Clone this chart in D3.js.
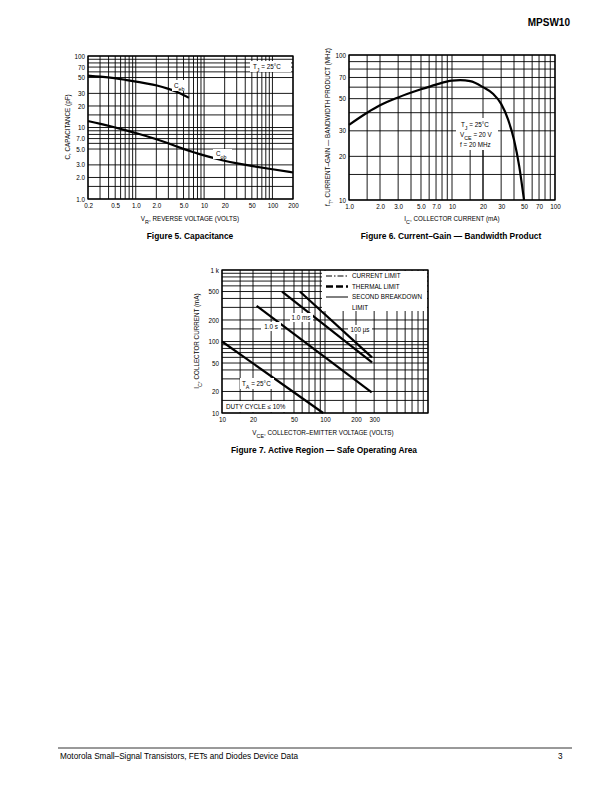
<!DOCTYPE html>
<html>
<head>
<meta charset="utf-8">
<script src="https://cdn.jsdelivr.net/npm/d3@7"></script>
<style>
body { margin: 0; background: #fff; }
text { font-family: "Liberation Sans", Arial, sans-serif; fill: #000; }
</style>
</head>
<body>
<script>
// Figure 5 - capacitance vs reverse voltage
var vrCeb = [0.2, 0.3, 0.5, 0.7, 1.0, 1.5, 2.0, 3.0, 4.0, 5.0, 6.0];
var cebValues = [53, 51.5, 49, 46.5, 44, 41, 39, 35, 31.5, 28.5, 26];
var vrCob = [0.2, 0.3, 0.5, 0.7, 1.0, 2.0, 3.0, 5.0, 7.0, 10, 20, 30, 50, 100, 200];
var cobValues = [12.3, 11.3, 10.0, 9.2, 8.4, 6.9, 6.0, 5.0, 4.5, 4.05, 3.4, 3.15, 2.9, 2.6, 2.35];
var fig5XTicks = [0.2, 0.5, 1.0, 2.0, 5.0, 10, 20, 50, 100, 200];
var fig5XLabels = ["0.2", "0.5", "1.0", "2.0", "5.0", "10", "20", "50", "100", "200"];
var fig5YTicks = [1, 2, 3, 5, 7, 10, 20, 30, 50, 70, 100];
var fig5YLabels = ["1.0", "2.0", "3.0", "5.0", "7.0", "10", "20", "30", "50", "70", "100"];

// Figure 6 - current-gain bandwidth product
var icValues = [1.0, 1.5, 2.0, 3.0, 5.0, 7.0, 10, 12, 15, 20, 25, 30, 35, 40, 45, 50];
var ftValues = [33, 40, 45, 51, 58, 62.5, 66.5, 67, 66, 60, 54, 46, 36, 26, 17, 10];
var fig6XTicks = [1, 2, 3, 5, 7, 10, 20, 30, 50, 70, 100];
var fig6XLabels = ["1.0", "2.0", "3.0", "5.0", "7.0", "10", "20", "30", "50", "70", "100"];
var fig6YTicks = [10, 20, 30, 50, 70, 100];
var fig6YLabels = ["10", "20", "30", "50", "70", "100"];

// Figure 7 - safe operating area (VCE volts, IC mA)
var soaDc = [[10, 100], [96, 10]];
var soa1s = [[21.7, 314], [284, 19.4]];
var soa1ms = [[38.3, 500], [286, 51]];
var soa100us = [[57, 500], [286, 60]];
var fig7XTicks = [10, 20, 50, 100, 200, 300];
var fig7XLabels = ["10", "20", "50", "100", "200", "300"];
var fig7YTicks = [10, 20, 50, 100, 200, 500, 1000];
var fig7YLabels = ["10", "20", "50", "100", "200", "500", "1 k"];

var svg = d3.select("body").append("svg")
  .attr("width", 612)
  .attr("height", 792);

// grid values: mantissas per decade inside the domain
function decadeLines(domain, mant) {
  var out = [];
  for (var e = -2; e <= 4; e++) {
    mant.forEach(function (m) {
      var v = +(m * Math.pow(10, e)).toPrecision(6);
      if (v >= domain[0] * 0.999 && v <= domain[1] * 1.001) out.push(v);
    });
  }
  return out;
}

function drawPanel(o) {
  var x = d3.scaleLog().domain(o.xDomain).range([o.left, o.right]);
  var y = d3.scaleLog().domain(o.yDomain).range([o.bottom, o.top]);
  var g = svg.append("g");

  g.selectAll(".vgrid").data(o.xGrid).join("line")
    .attr("x1", d => x(d)).attr("x2", d => x(d))
    .attr("y1", o.top).attr("y2", o.bottom)
    .attr("stroke", "#000").attr("stroke-width", 0.9);
  g.selectAll(".hgrid").data(o.yGrid).join("line")
    .attr("x1", o.left).attr("x2", o.right)
    .attr("y1", d => y(d)).attr("y2", d => y(d))
    .attr("stroke", "#000").attr("stroke-width", 0.9);

  var xAxis = d3.axisBottom(x).tickValues(o.xTicks)
    .tickFormat((d, i) => o.xLabels[i]).tickSize(0).tickPadding(5);
  var yAxis = d3.axisLeft(y).tickValues(o.yTicks)
    .tickFormat((d, i) => o.yLabels[i]).tickSize(0).tickPadding(3);

  g.append("g").attr("transform", `translate(0, ${o.bottom})`).call(xAxis)
    .call(s => s.select(".domain").remove())
    .attr("font-family", "Liberation Sans, Arial, sans-serif").attr("font-size", 6.3);
  g.append("g").attr("transform", `translate(${o.left}, 0)`).call(yAxis)
    .call(s => s.select(".domain").remove())
    .attr("font-family", "Liberation Sans, Arial, sans-serif").attr("font-size", 6.3);

  return { g: g, x: x, y: y };
}

function border(p, o) {
  p.g.append("rect")
    .attr("x", o.left).attr("y", o.top)
    .attr("width", o.right - o.left).attr("height", o.bottom - o.top)
    .attr("fill", "none").attr("stroke", "#000").attr("stroke-width", 1.3);
}

function whiteBox(g, x, y, w, h) {
  g.append("rect").attr("x", x).attr("y", y).attr("width", w).attr("height", h).attr("fill", "#fff");
}

// text with optional subscript: parts = [[text, isSub], ...]
function richText(g, x, y, parts, size, anchor, rotate) {
  var t = g.append("text").attr("font-size", size).attr("text-anchor", anchor || "start");
  if (rotate) t.attr("transform", `translate(${x},${y}) rotate(-90)`);
  else t.attr("x", x).attr("y", y);
  parts.forEach(function (p) {
    var s = t.append("tspan").text(p[0]);
    if (p[1]) s.attr("baseline-shift", "sub").attr("font-size", size * 0.85);
  });
  return t;
}

// ---------- Figure 5 ----------
var f5 = { left: 88, right: 293, top: 56, bottom: 199, xDomain: [0.2, 200], yDomain: [1, 100],
  xGrid: decadeLines([0.2, 200], [1, 2, 3, 4, 5, 6, 7, 8, 9]),
  yGrid: decadeLines([1, 100], [1, 1.5, 2, 3, 5, 6, 7, 8, 9]),
  xTicks: fig5XTicks, xLabels: fig5XLabels, yTicks: fig5YTicks, yLabels: fig5YLabels };
var p5 = drawPanel(f5);
var line5 = d3.line().x(d => p5.x(d[0])).y(d => p5.y(d[1])).curve(d3.curveBasis);
p5.g.append("path").datum(d3.zip(vrCeb, cebValues)).attr("d", line5)
  .attr("fill", "none").attr("stroke", "#000").attr("stroke-width", 2.2);
p5.g.append("path").datum(d3.zip(vrCob, cobValues)).attr("d", line5)
  .attr("fill", "none").attr("stroke", "#000").attr("stroke-width", 2.2);
whiteBox(p5.g, 172, 80, 16, 11);
richText(p5.g, 174, 88, [["C", false], ["eb", true]], 6.3);
whiteBox(p5.g, 213, 149, 19, 10);
richText(p5.g, 216, 156, [["C", false], ["ob", true]], 6.3);
whiteBox(p5.g, 250, 61, 41, 11);
richText(p5.g, 253, 69, [["T", false], ["J", true], [" = 25°C", false]], 6.3);
border(p5, f5);
richText(svg, 70, 127, [["C, CAPACITANCE (pF)", false]], 6.3, "middle", true);
richText(svg, 190, 221, [["V", false], ["R", true], [", REVERSE VOLTAGE (VOLTS)", false]], 6.3, "middle");
svg.append("text").attr("x", 190).attr("y", 239).attr("text-anchor", "middle")
  .attr("font-size", 8.4).attr("font-weight", "bold").text("Figure 5. Capacitance");

// ---------- Figure 6 ----------
var f6 = { left: 349, right: 555, top: 55, bottom: 200, xDomain: [1, 100], yDomain: [10, 100],
  xGrid: decadeLines([1, 100], [1, 2, 3, 4, 5, 6, 7, 8, 9]).concat([1.5]),
  yGrid: decadeLines([10, 100], [1, 1.5, 2, 3, 4, 5, 6, 7, 8, 9]),
  xTicks: fig6XTicks, xLabels: fig6XLabels, yTicks: fig6YTicks, yLabels: fig6YLabels };
var p6 = drawPanel(f6);
// the 15 and 20 mA lines stop under the condition box
p6.g.selectAll(".vshort").data([15, 20]).join("line")
  .attr("x1", d => p6.x(d)).attr("x2", d => p6.x(d))
  .attr("y1", 150).attr("y2", f6.bottom)
  .attr("stroke", "#000").attr("stroke-width", 0.9);
var line6 = d3.line().x(d => p6.x(d[0])).y(d => p6.y(d[1])).curve(d3.curveMonotoneX);
p6.g.append("path").datum(d3.zip(icValues, ftValues)).attr("d", line6)
  .attr("fill", "none").attr("stroke", "#000").attr("stroke-width", 2.2);
whiteBox(p6.g, 456, 118, 42, 32);
richText(p6.g, 461, 127, [["T", false], ["J", true], [" = 25°C", false]], 6.3);
richText(p6.g, 460, 137, [["V", false], ["CE", true], [" = 20 V", false]], 6.3);
richText(p6.g, 460, 147, [["f = 20 MHz", false]], 6.3);
border(p6, f6);
richText(svg, 330, 127, [["f", false], ["T", true], [", CURRENT–GAIN — BANDWIDTH PRODUCT (MHz)", false]], 6.3, "middle", true);
richText(svg, 452, 221, [["I", false], ["C", true], [", COLLECTOR CURRENT (mA)", false]], 6.3, "middle");
svg.append("text").attr("x", 451).attr("y", 239).attr("text-anchor", "middle")
  .attr("font-size", 8.4).attr("font-weight", "bold").text("Figure 6. Current–Gain — Bandwidth Product");

// ---------- Figure 7 ----------
var f7 = { left: 222, right: 428, top: 270, bottom: 413, xDomain: [10, 1000], yDomain: [10, 1000],
  xGrid: decadeLines([10, 1000], [1, 1.5, 2, 3, 4, 5, 6, 7, 8, 9]),
  yGrid: decadeLines([10, 1000], [1, 1.5, 2, 3, 4, 5, 6, 7, 8, 9]),
  xTicks: fig7XTicks, xLabels: fig7XLabels, yTicks: fig7YTicks, yLabels: fig7YLabels };
var p7 = drawPanel(f7);
var line7 = d3.line().x(d => p7.x(d[0])).y(d => p7.y(d[1]));
[soaDc, soa1s, soa1ms, soa100us].forEach(function (s) {
  p7.g.append("path").datum(s).attr("d", line7)
    .attr("fill", "none").attr("stroke", "#000").attr("stroke-width", 2.2);
});
whiteBox(p7.g, 261, 322, 20, 9);
p7.g.append("text").attr("x", 271).attr("y", 329).attr("text-anchor", "middle").attr("font-size", 6.3).text("1.0 s");
whiteBox(p7.g, 290, 313, 23, 9);
p7.g.append("text").attr("x", 301).attr("y", 320).attr("text-anchor", "middle").attr("font-size", 6.3).text("1.0 ms");
whiteBox(p7.g, 348, 325, 24, 9);
p7.g.append("text").attr("x", 360).attr("y", 332).attr("text-anchor", "middle").attr("font-size", 6.3).text("100 µs");
whiteBox(p7.g, 240, 378, 34, 11);
richText(p7.g, 242, 386, [["T", false], ["A", true], [" = 25°C", false]], 6.3);
whiteBox(p7.g, 223, 401, 70, 11);
p7.g.append("text").attr("x", 226).attr("y", 409).attr("font-size", 6.3).text("DUTY CYCLE ≤ 10%");

// legend
var legendItems = ["CURRENT LIMIT", "THERMAL LIMIT", "SECOND BREAKDOWN"];
var legendDash = ["6,2,1.5,2", "7,3", null];
var legendWidth = [1, 2.4, 1];
whiteBox(p7.g, 322, 271, 105, 40);
legendItems.forEach(function (name, i) {
  var ly = 276 + i * 10.5;
  p7.g.append("line").attr("x1", 326).attr("x2", 348).attr("y1", ly).attr("y2", ly)
    .attr("stroke", "#000").attr("stroke-width", legendWidth[i])
    .attr("stroke-dasharray", legendDash[i]);
  p7.g.append("text").attr("x", 352).attr("y", ly + 2.3).attr("font-size", 6.3).text(name);
});
p7.g.append("text").attr("x", 352).attr("y", 309.8).attr("font-size", 6.3).text("LIMIT");
border(p7, f7);
richText(svg, 199, 341, [["I", false], ["C", true], [", COLLECTOR CURRENT (mA)", false]], 6.3, "middle", true);
richText(svg, 323, 435, [["V", false], ["CE", true], [", COLLECTOR–EMITTER VOLTAGE (VOLTS)", false]], 6.3, "middle");
svg.append("text").attr("x", 324).attr("y", 453).attr("text-anchor", "middle")
  .attr("font-size", 8.4).attr("font-weight", "bold").text("Figure 7. Active Region — Safe Operating Area");

// page header / footer
svg.append("text").attr("x", 570).attr("y", 26).attr("text-anchor", "end")
  .attr("font-size", 10).attr("font-weight", 900).text("MPSW10");
svg.append("line").attr("x1", 58).attr("x2", 572).attr("y1", 748).attr("y2", 748)
  .attr("stroke", "#000").attr("stroke-width", 0.8);
svg.append("text").attr("x", 60).attr("y", 759).attr("font-size", 8.2)
  .text("Motorola Small–Signal Transistors, FETs and Diodes Device Data");
svg.append("text").attr("x", 558).attr("y", 759).attr("font-size", 8.2).text("3");
</script>
</body>
</html>
